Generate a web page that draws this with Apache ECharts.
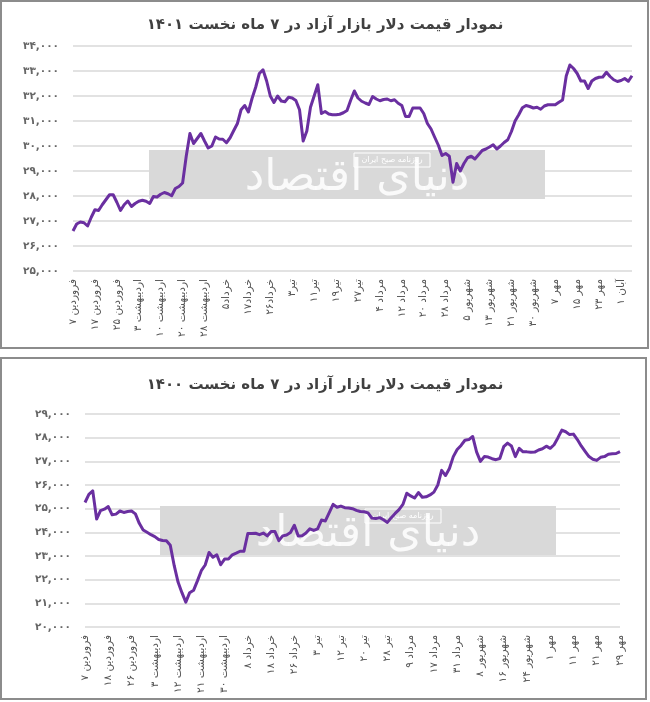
<!DOCTYPE html>
<html lang="fa">
<head>
<meta charset="utf-8">
<script src="https://cdn.jsdelivr.net/npm/echarts@6/dist/echarts.min.js"></script>
<style>
  html, body { margin: 0; padding: 0; background: #fff; }
  #main { width: 650px; height: 702px; }
</style>
</head>
<body>
<div id="main"></div>
<script>
// قیمت دلار ۱۴۰۱ (هر ۶ نقطه یک برچسب)
var labels1401 = ['فروردین ۷','فروردین ۱۷','فروردین ۲۵','اردیبهشت ۳','اردیبهشت ۱۰','اردیبهشت ۲۰','اردیبهشت ۲۸',
  'خرداد۵','خرداد۱۷','خرداد۲۶','تیر۳','تیر۱۱','تیر۱۹','تیر۲۷','مرداد ۴','مرداد ۱۲','مرداد ۲۰','مرداد ۲۸',
  'شهریور ۵','شهریور ۱۳','شهریور ۲۱','شهریور ۳۰','مهر ۷','مهر ۱۵','مهر ۲۳','آبان ۱'];
var values1401 = [
  26600,26880,26960,26930,26800,27150,27450,27420,27650,27850,
  28050,28050,27750,27420,27650,27800,27580,27700,27790,27830,
  27790,27700,27980,27960,28070,28140,28090,28010,28300,28380,
  28520,29600,30500,30100,30300,30500,30200,29920,30000,30360,
  30280,30270,30130,30330,30620,30900,31450,31620,31360,31900,
  32350,32900,33050,32600,32000,31740,32000,31800,31770,31950,
  31920,31820,31450,30200,30600,31550,32000,32450,31300,31380,
  31280,31250,31250,31270,31330,31420,31830,32200,31920,31790,
  31720,31660,31980,31880,31810,31860,31880,31810,31850,31710,
  31620,31185,31185,31520,31520,31520,31300,30900,30680,30350,
  30030,29620,29700,29590,28550,29300,29000,29300,29530,29590,
  29480,29650,29820,29880,29960,30050,29880,30000,30140,30250,
  30580,31000,31250,31530,31620,31580,31520,31550,31470,31600,
  31650,31650,31650,31750,31840,32800,33240,33100,32900,32600,
  32600,32300,32600,32700,32750,32760,32950,32780,32650,32580,
  32620,32700,32590,32810
];

// قیمت دلار ۱۴۰۰
var labels1400 = ['فروردین ۷','فروردین ۱۸','فروردین ۲۶','اردیبهشت ۳','اردیبهشت ۱۲','اردیبهشت ۲۱','اردیبهشت ۳۰',
  'خرداد ۸','خرداد ۱۸','خرداد ۲۶','تیر ۳','تیر ۱۲','تیر ۲۰','تیر ۲۸','مرداد ۹','مرداد ۱۷','مرداد ۳۱',
  'شهریور ۸','شهریور ۱۶','شهریور ۲۴','مهر ۱','مهر ۱۱','مهر ۲۱','مهر ۲۹'];
var values1400 = [
  25260,25600,25750,24560,24920,24980,25090,24740,24770,24900,
  24840,24880,24900,24780,24380,24100,24000,23900,23820,23700,
  23655,23640,23450,22600,21900,21450,21050,21450,21550,21950,
  22380,22620,23150,22950,23050,22630,22870,22870,23050,23120,
  23200,23200,23950,23950,23960,23900,23970,23850,24030,24030,
  23650,23850,23890,23990,24300,23850,23860,23970,24150,24080,
  24150,24520,24480,24830,25180,25060,25110,25040,25030,25000,
  24930,24880,24870,24820,24600,24580,24620,24530,24420,24620,
  24800,24960,25180,25650,25540,25450,25680,25480,25500,25580,
  25700,26000,26620,26400,26700,27200,27500,27670,27890,27920,
  28050,27400,27000,27200,27180,27110,27070,27120,27620,27770,
  27650,27200,27550,27400,27400,27380,27390,27480,27530,27640,
  27550,27700,28000,28320,28250,28130,28150,27920,27650,27420,
  27200,27090,27040,27170,27200,27300,27320,27330,27410
];

var titles = ['نمودار قیمت دلار بازار آزاد در ۷ ماه نخست ۱۴۰۱', 'نمودار قیمت دلار بازار آزاد در ۷ ماه نخست ۱۴۰۰'];
var yTicks1401 = [25000, 34000, 1000];
var yTicks1400 = [20000, 29000, 1000];
var STEP = 6;

var FONT = "'DejaVu Sans', sans-serif";
var fa = '۰۱۲۳۴۵۶۷۸۹';
function toFa(n) {
  return n.toLocaleString('en-US').replace(/[0-9]/g, function (d) { return fa[d]; });
}
function idx(n) { var a = []; for (var i = 0; i < n; i++) a.push(String(i)); return a; }

function xAxisFor(gridIndex, labels, n) {
  return {
    type: 'category', gridIndex: gridIndex, boundaryGap: false, data: idx(n),
    axisLine: { show: false }, axisTick: { show: false },
    axisLabel: {
      rotate: 90, fontFamily: FONT, fontSize: 10.5, color: '#555', margin: 8,
      interval: function (i) { return i % STEP === 0; },
      formatter: function (v, i) { return labels[Math.round(i / STEP)] || ''; }
    }
  };
}
function yAxisFor(gridIndex, t) {
  return {
    type: 'value', gridIndex: gridIndex, min: t[0], max: t[1], interval: t[2],
    axisLine: { show: false }, axisTick: { show: false },
    axisLabel: { fontFamily: FONT, fontSize: 10.5, fontWeight: 'bold', color: '#666', margin: 14, formatter: toFa },
    splitLine: { lineStyle: { color: '#d9d9d9', width: 1.5 } }
  };
}

// لوگوی کم‌رنگ پشت نمودار
function watermark(x, y, w, h) {
  return [
    { type: 'rect', z: 0, shape: { x: x, y: y, width: w, height: h }, style: { fill: '#cfcfcf', opacity: 0.8 } },
    { type: 'text', z: 1, x: x + w / 2 + 10, y: y + h / 2 + 4,
      style: { text: 'دنیای اقتصاد', font: "44px 'DejaVu Sans'", fill: '#fff', opacity: 0.85,
               textAlign: 'center', textVerticalAlign: 'middle' } },
    { type: 'rect', z: 1, shape: { x: x + 205, y: y + 3, width: 76, height: 14 }, style: { fill: 'none', stroke: '#fff', lineWidth: 1 } },
    { type: 'text', z: 1, x: x + 243, y: y + 10,
      style: { text: 'روزنامه صبح ایران', font: "8px 'DejaVu Sans'", fill: '#fff', textAlign: 'center', textVerticalAlign: 'middle' } }
  ];
}

var chart = echarts.init(document.getElementById('main'), null, { renderer: 'canvas' });
chart.setOption({
  animation: false,
  backgroundColor: '#fff',
  title: [
    { text: titles[0], left: 'center', top: 13, textStyle: { fontFamily: FONT, fontSize: 15, fontWeight: 'bold', color: '#404040' } },
    { text: titles[1], left: 'center', top: 373, textStyle: { fontFamily: FONT, fontSize: 15, fontWeight: 'bold', color: '#404040' } }
  ],
  graphic: [
    { type: 'rect', z: 0, shape: { x: 1, y: 1, width: 647, height: 347 }, style: { fill: 'none', stroke: '#8c8c8c', lineWidth: 2 } },
    { type: 'rect', z: 0, shape: { x: 1, y: 358, width: 645, height: 341 }, style: { fill: 'none', stroke: '#8c8c8c', lineWidth: 2 } }
  ].concat(watermark(149, 150, 396, 49), watermark(160, 506, 396, 49)),
  grid: [
    { left: 73, top: 46, width: 559, height: 225 },
    { left: 85, top: 414, width: 535, height: 213 }
  ],
  xAxis: [xAxisFor(0, labels1401, values1401.length), xAxisFor(1, labels1400, values1400.length)],
  yAxis: [yAxisFor(0, yTicks1401), yAxisFor(1, yTicks1400)],
  series: [
    { type: 'line', xAxisIndex: 0, yAxisIndex: 0, data: values1401, symbol: 'none', z: 5,
      lineStyle: { color: '#6a2fa0', width: 3, join: 'round' } },
    { type: 'line', xAxisIndex: 1, yAxisIndex: 1, data: values1400, symbol: 'none', z: 5,
      lineStyle: { color: '#6a2fa0', width: 3, join: 'round' } }
  ]
});
</script>
</body>
</html>
